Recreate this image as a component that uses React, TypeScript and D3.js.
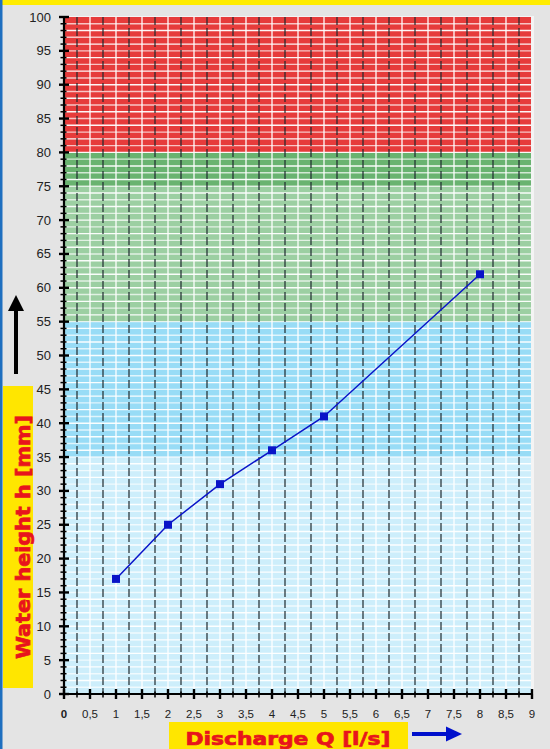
import React from "react";
import * as d3 from "d3";

const dischargeQ = [1, 2, 3, 4, 5, 8];
const waterHeight = [17, 25, 31, 36, 41, 62];
const yTicks = [0, 5, 10, 15, 20, 25, 30, 35, 40, 45, 50, 55, 60, 65, 70, 75, 80, 85, 90, 95, 100];
const xTickLabels = ["0", "0,5", "1", "1,5", "2", "2,5", "3", "3,5", "4", "4,5", "5", "5,5", "6", "6,5", "7", "7,5", "8", "8,5", "9"];
const bands = [
  { from: 0, to: 35, color: "#cdeefb" },
  { from: 35, to: 55, color: "#98dcf6" },
  { from: 55, to: 75, color: "#9ccfa2" },
  { from: 75, to: 80, color: "#69b370" },
  { from: 80, to: 100, color: "#e63b3b" },
];

export default function App() {
  const W = 550, H = 749;
  const x = d3.scaleLinear().domain([0, 9]).range([64, 532]);
  const y = d3.scaleLinear().domain([0, 100]).range([694, 17]);
  const line = d3.line<number>().x((_, i) => x(dischargeQ[i])).y((d) => y(d));

  const hLines = d3.range(1, 100, 1);
  const whiteV = d3.range(0.5, 9, 0.5);
  const darkV = d3.range(0.25, 9, 0.5);
  const minorY = d3.range(0, 101, 1).filter((v) => v % 5 !== 0);
  const minorX = d3.range(0.25, 9, 0.5);
  const font = "Helvetica, Arial, 'Liberation Sans', sans-serif";
  const titleFont = "'DejaVu Sans', Arial, sans-serif";

  return (
    <svg width={W} height={H} style={{ position: "absolute", left: 0, top: 0, display: "block" }}>
      <rect x={0} y={0} width={W} height={H} fill="#e4e4e4" />
      <rect x={0} y={0} width={W} height={5} fill="#ffec00" />
      <rect x={0} y={0} width={2.5} height={H} fill="#1f6fbf" />

      {/* plot frame */}
      <rect x={x(0)} y={y(100) - 1} width={x(9) - x(0) + 2} height={y(0) - y(100) + 1} fill="#f4f4f4" />
      {bands.map((b, i) => (
        <rect key={i} x={x(0)} y={y(b.to)} width={x(9) - x(0) - 1} height={y(b.from) - y(b.to)} fill={b.color} />
      ))}
      {hLines.map((v) => (
        <line key={"h" + v} x1={x(0)} x2={x(9) - 1} y1={y(v)} y2={y(v)} stroke="#ffffff" strokeOpacity={v % 2 === 0 ? 0.95 : 0.7} strokeWidth={1.4} />
      ))}
      {whiteV.map((v) => (
        <line key={"w" + v} x1={x(v)} x2={x(v)} y1={y(100)} y2={y(0)} stroke="#ffffff" strokeOpacity={0.8} strokeWidth={1.6} />
      ))}
      {darkV.map((v) => (
        <line key={"d" + v} x1={x(v)} x2={x(v)} y1={y(100)} y2={y(0)} stroke="#1e2a2e" strokeOpacity={0.75} strokeWidth={1.6} strokeDasharray="8,3" />
      ))}

      {/* axes */}
      <line x1={x(0)} x2={x(0)} y1={y(100) - 1} y2={y(0) + 1} stroke="#000" strokeWidth={2.2} />
      <line x1={x(0) - 1} x2={x(9) + 1} y1={y(0)} y2={y(0)} stroke="#000" strokeWidth={2.2} />
      {yTicks.map((v) => (
        <g key={"yt" + v}>
          <line x1={x(0) - 5} x2={x(0) + 5} y1={y(v)} y2={y(v)} stroke="#000" strokeWidth={2.4} />
          <text x={51} y={y(v) + 4.5} textAnchor="end" fontFamily={font} fontSize={13} fill="#222">{v}</text>
        </g>
      ))}
      {minorY.map((v) => (
        <line key={"my" + v} x1={x(0) - 3.5} x2={x(0) + 2.5} y1={y(v)} y2={y(v)} stroke="#000" strokeWidth={1.5} />
      ))}
      {xTickLabels.map((t, i) => (
        <g key={"xt" + i}>
          <line x1={x(i * 0.5)} x2={x(i * 0.5)} y1={y(0) - 5} y2={y(0) + 5} stroke="#000" strokeWidth={2.4} />
          <text x={x(i * 0.5)} y={718} textAnchor="middle" fontFamily={font} fontSize={11.5} fill="#222" fontWeight={i === 0 ? "bold" : "normal"}>{t}</text>
        </g>
      ))}
      {minorX.map((v) => (
        <line key={"mx" + v} x1={x(v)} x2={x(v)} y1={y(0) - 2.5} y2={y(0) + 3.5} stroke="#000" strokeWidth={1.5} />
      ))}

      {/* data */}
      <path d={line(waterHeight) || ""} fill="none" stroke="#0a14c8" strokeWidth={1.5} />
      {waterHeight.map((v, i) => (
        <rect key={"p" + i} x={x(dischargeQ[i]) - 4} y={y(v) - 4} width={8} height={8} fill="#0a14c8" />
      ))}

      {/* y title */}
      <rect x={3} y={386} width={30} height={302} fill="#ffe600" />
      <text transform={`translate(29.5,537) rotate(-90)`} textAnchor="middle" fontFamily={titleFont} fontWeight="bold" fontSize={19} fill="#e8141c" stroke="#e8141c" strokeWidth={0.7} textLength={244} lengthAdjust="spacingAndGlyphs">Water height h [mm]</text>
      <line x1={16} x2={16} y1={374} y2={306} stroke="#000" strokeWidth={4} />
      <path d="M8,311 L16,295 L24,311 Z" fill="#000" />

      {/* x title */}
      <rect x={169} y={722} width={239} height={27} fill="#ffe600" />
      <text x={288} y={745} textAnchor="middle" fontFamily={titleFont} fontWeight="bold" fontSize={18} fill="#e8141c" stroke="#e8141c" strokeWidth={0.7} textLength={205} lengthAdjust="spacingAndGlyphs">Discharge Q [l/s]</text>
      <line x1={412} x2={448} y1={734} y2={734} stroke="#0010cc" strokeWidth={4} />
      <path d="M446,726.5 L462,734 L446,741.5 Z" fill="#0010cc" />
    </svg>
  );
}
